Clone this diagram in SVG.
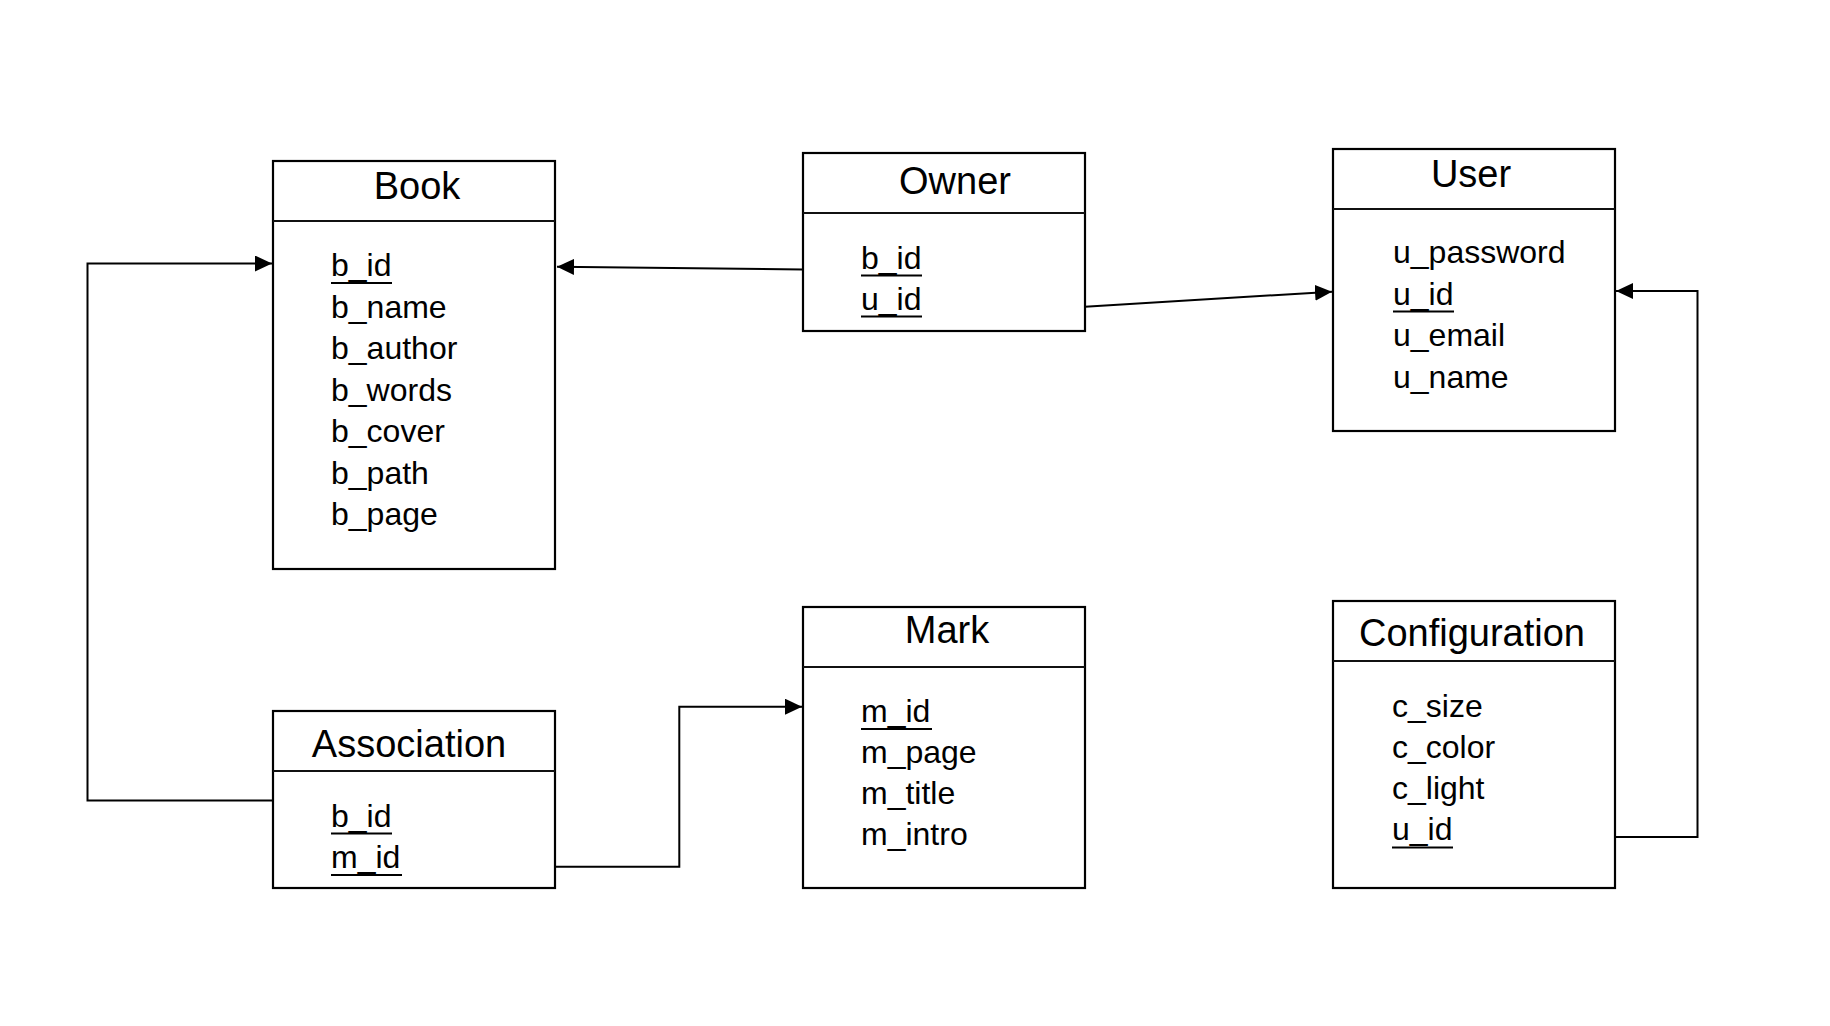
<svg xmlns="http://www.w3.org/2000/svg" width="1830" height="1026" viewBox="0 0 1830 1026">
  <defs>
    <marker id="arrow" markerUnits="userSpaceOnUse" markerWidth="18" markerHeight="16" refX="17" refY="8" orient="auto">
      <path d="M0,0 L17,8 L0,16 z" fill="#000"/>
    </marker>
    <style>
      .box { fill: #fff; stroke: #000; stroke-width: 2.2; }
      .div { stroke: #111; stroke-width: 2; }
      .title { font-family: "Liberation Sans", Arial, sans-serif; font-size: 38px; fill: #000; text-anchor: middle; }
      .attr { font-family: "Liberation Sans", Arial, sans-serif; font-size: 32px; fill: #000; }
      .key { stroke: #000; stroke-width: 1.8; }
      .conn { fill: none; stroke: #000; stroke-width: 2; }
    </style>
  </defs>
  <rect width="1830" height="1026" fill="#fff"/>

  <!-- relationship lines -->
  <g id="connectors">
    <path class="conn" d="M803,269.5 L557,266.7" marker-end="url(#arrow)"/>
    <path class="conn" d="M1085,306.7 L1332,291.7" marker-end="url(#arrow)"/>
    <path class="conn" d="M276,800.5 H87.5 V263.5 H272" marker-end="url(#arrow)"/>
    <path class="conn" d="M555,866.7 H679.3 V706.7 H802" marker-end="url(#arrow)"/>
    <path class="conn" d="M1615,837 H1697.5 V291 H1616" marker-end="url(#arrow)"/>
  </g>

  <!-- Book table -->
  <g id="book">
    <rect class="box" x="273" y="161" width="282" height="408"/>
    <line class="div" x1="273" y1="221" x2="555" y2="221"/>
    <text class="title" x="417" y="199">Book</text>
    <text class="attr" x="331" y="276">b_id</text>
    <line class="key" x1="331" y1="283" x2="392" y2="283"/>
    <text class="attr" x="331" y="317.5">b_name</text>
    <text class="attr" x="331" y="359">b_author</text>
    <text class="attr" x="331" y="400.5">b_words</text>
    <text class="attr" x="331" y="442">b_cover</text>
    <text class="attr" x="331" y="483.5">b_path</text>
    <text class="attr" x="331" y="525">b_page</text>
  </g>

  <!-- Owner table -->
  <g id="owner">
    <rect class="box" x="803" y="153" width="282" height="178"/>
    <line class="div" x1="803" y1="213" x2="1085" y2="213"/>
    <text class="title" x="955" y="194">Owner</text>
    <text class="attr" x="861" y="268.5">b_id</text>
    <line class="key" x1="861" y1="275.5" x2="922" y2="275.5"/>
    <text class="attr" x="861" y="309.5">u_id</text>
    <line class="key" x1="861" y1="316.5" x2="922" y2="316.5"/>
  </g>

  <!-- User table -->
  <g id="user">
    <rect class="box" x="1333" y="149" width="282" height="282"/>
    <line class="div" x1="1333" y1="209" x2="1615" y2="209"/>
    <text class="title" x="1471" y="187">User</text>
    <text class="attr" x="1393" y="263">u_password</text>
    <text class="attr" x="1393" y="304.5">u_id</text>
    <line class="key" x1="1393" y1="311.5" x2="1454" y2="311.5"/>
    <text class="attr" x="1393" y="346">u_email</text>
    <text class="attr" x="1393" y="387.5">u_name</text>
  </g>

  <!-- Association table -->
  <g id="association">
    <rect class="box" x="273" y="711" width="282" height="177"/>
    <line class="div" x1="273" y1="771" x2="555" y2="771"/>
    <text class="title" x="409" y="757">Association</text>
    <text class="attr" x="331" y="826.5">b_id</text>
    <line class="key" x1="331" y1="833.5" x2="392" y2="833.5"/>
    <text class="attr" x="331" y="868">m_id</text>
    <line class="key" x1="331" y1="875" x2="402" y2="875"/>
  </g>

  <!-- Mark table -->
  <g id="mark">
    <rect class="box" x="803" y="607" width="282" height="281"/>
    <line class="div" x1="803" y1="667" x2="1085" y2="667"/>
    <text class="title" x="947" y="643">Mark</text>
    <text class="attr" x="861" y="722">m_id</text>
    <line class="key" x1="861" y1="729" x2="932" y2="729"/>
    <text class="attr" x="861" y="763">m_page</text>
    <text class="attr" x="861" y="804">m_title</text>
    <text class="attr" x="861" y="845">m_intro</text>
  </g>

  <!-- Configuration table -->
  <g id="configuration">
    <rect class="box" x="1333" y="601" width="282" height="287"/>
    <line class="div" x1="1333" y1="661" x2="1615" y2="661"/>
    <text class="title" x="1472" y="646">Configuration</text>
    <text class="attr" x="1392" y="716.5">c_size</text>
    <text class="attr" x="1392" y="757.5">c_color</text>
    <text class="attr" x="1392" y="799">c_light</text>
    <text class="attr" x="1392" y="840">u_id</text>
    <line class="key" x1="1392" y1="847.5" x2="1453" y2="847.5"/>
  </g>
</svg>
